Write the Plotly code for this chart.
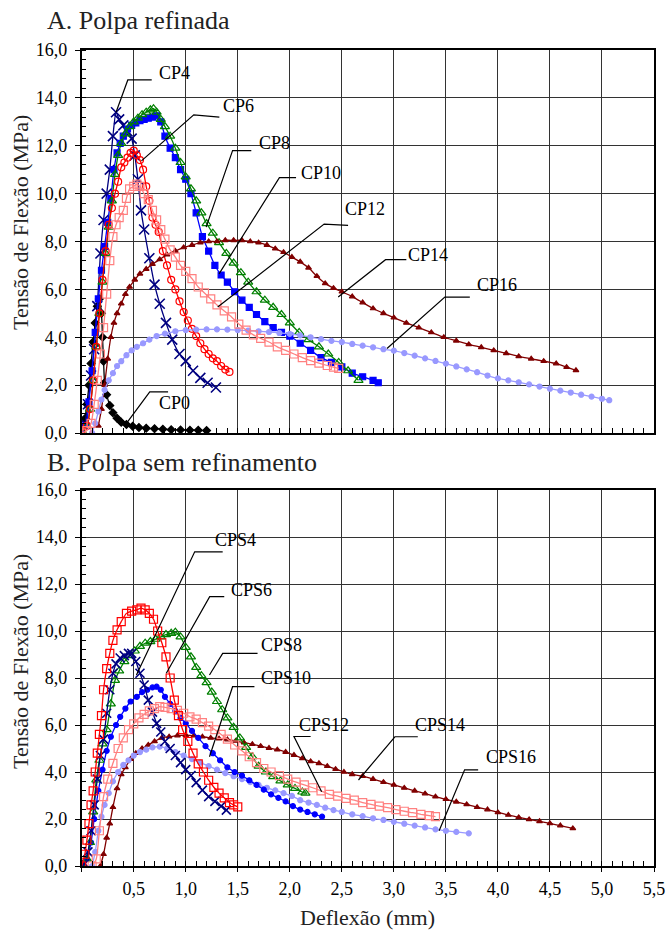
import plotly.graph_objects as go

# ---------------- DATA ----------------
# Panel A: Polpa refinada
cp0_x = [0.00, 0.03, 0.05, 0.07, 0.09, 0.11, 0.13, 0.15, 0.17, 0.19, 0.20, 0.21, 0.22, 0.24, 0.27, 0.30, 0.34, 0.38, 0.43, 0.49, 0.55, 0.62, 0.70, 0.78, 0.86, 0.95, 1.04, 1.12, 1.20]
cp0_y = [0.2, 0.6, 1.2, 2.0, 2.9, 3.8, 4.6, 5.3, 5.6, 5.0, 4.0, 3.0, 2.1, 1.6, 1.15, 0.85, 0.62, 0.45, 0.35, 0.28, 0.23, 0.2, 0.18, 0.16, 0.14, 0.13, 0.12, 0.11, 0.1]

cp4_x = [0.00, 0.03, 0.06, 0.09, 0.12, 0.15, 0.18, 0.21, 0.24, 0.27, 0.30, 0.33, 0.36, 0.40, 0.44, 0.48, 0.51, 0.54, 0.57, 0.60, 0.65, 0.70, 0.75, 0.81, 0.87, 0.94, 1.00, 1.07, 1.14, 1.21, 1.29]
cp4_y = [0.1, 0.4, 1.2, 2.4, 3.5, 5.3, 7.5, 8.9, 10.0, 11.0, 12.4, 13.4, 13.1, 12.85, 12.6, 12.3, 11.6, 10.6, 9.3, 8.5, 7.3, 6.2, 5.4, 4.6, 3.9, 3.3, 3.0, 2.6, 2.3, 2.1, 1.9]

cp6_x = [0.00, 0.04, 0.07, 0.10, 0.13, 0.16, 0.19, 0.22, 0.25, 0.28, 0.31, 0.34, 0.37, 0.40, 0.44, 0.48, 0.52, 0.56, 0.60, 0.64, 0.68, 0.72, 0.76, 0.80, 0.85, 0.90, 0.95, 1.00, 1.05, 1.10, 1.16, 1.22, 1.28, 1.34, 1.40, 1.47, 1.54, 1.61, 1.68, 1.76, 1.84, 1.92, 2.00, 2.10, 2.20, 2.30, 2.40, 2.50, 2.60, 2.70, 2.80, 2.85]
cp6_y = [0.1, 0.3, 1.3, 2.6, 4.2, 5.6, 6.8, 7.8, 8.8, 9.8, 11.0, 11.7, 12.1, 12.4, 12.7, 12.85, 12.95, 13.05, 13.1, 13.15, 13.2, 13.25, 13.0, 12.4, 11.9, 11.5, 11.0, 10.6, 10.0, 9.2, 8.2, 7.6, 7.0, 6.6, 6.3, 5.9, 5.55, 5.25, 4.95, 4.65, 4.4, 4.2, 4.05, 3.75, 3.45, 3.15, 2.95, 2.76, 2.5, 2.35, 2.2, 2.1]

cp8_x = [0.00, 0.05, 0.08, 0.11, 0.14, 0.17, 0.20, 0.23, 0.26, 0.29, 0.32, 0.35, 0.38, 0.42, 0.46, 0.50, 0.54, 0.58, 0.62, 0.66, 0.69, 0.72, 0.76, 0.80, 0.85, 0.90, 0.95, 1.00, 1.05, 1.10, 1.15, 1.20, 1.26, 1.32, 1.39, 1.46, 1.53, 1.60, 1.68, 1.76, 1.84, 1.92, 2.00, 2.09, 2.18, 2.28, 2.37, 2.47, 2.56, 2.66]
cp8_y = [0.1, 0.3, 1.0, 2.2, 3.6, 5.0, 6.3, 7.5, 8.6, 9.7, 10.8, 11.6, 12.1, 12.5, 12.8, 13.0, 13.15, 13.3, 13.4, 13.5, 13.55, 13.4, 13.1, 12.8, 12.4, 11.9, 11.3, 10.7, 10.2, 9.7, 9.2, 8.75, 8.35, 7.95, 7.5, 7.1, 6.7, 6.3, 5.9, 5.55, 5.25, 4.95, 4.6, 4.2, 3.9, 3.6, 3.3, 2.95, 2.6, 2.2]

cp10_x = [0.00, 0.05, 0.08, 0.11, 0.14, 0.17, 0.20, 0.23, 0.26, 0.29, 0.32, 0.35, 0.38, 0.41, 0.44, 0.47, 0.50, 0.53, 0.56, 0.59, 0.62, 0.65, 0.68, 0.71, 0.74, 0.78, 0.82, 0.86, 0.90, 0.94, 0.98, 1.02, 1.06, 1.10, 1.14, 1.18, 1.22, 1.26, 1.30, 1.34, 1.38, 1.42]
cp10_y = [0.1, 0.3, 1.0, 2.2, 3.6, 5.0, 6.4, 7.6, 8.7, 9.4, 10.0, 10.5, 11.1, 11.3, 11.5, 11.7, 11.8, 11.6, 11.4, 11.0, 10.3, 9.7, 9.0, 8.7, 8.4, 7.6, 7.0, 6.4, 6.0, 5.5, 5.05, 4.7, 4.35, 4.05, 3.75, 3.5, 3.3, 3.12, 3.0, 2.8, 2.65, 2.55]

cp12_x = [0.00, 0.05, 0.09, 0.12, 0.15, 0.18, 0.21, 0.24, 0.27, 0.30, 0.33, 0.36, 0.40, 0.43, 0.46, 0.50, 0.53, 0.56, 0.60, 0.64, 0.68, 0.72, 0.76, 0.80, 0.85, 0.90, 0.95, 1.00, 1.06, 1.12, 1.18, 1.24, 1.30, 1.37, 1.44, 1.51, 1.58, 1.65, 1.72, 1.80, 1.88, 1.96, 2.04, 2.12, 2.20, 2.28, 2.36, 2.42, 2.47]
cp12_y = [0.0, 0.1, 0.4, 1.2, 2.2, 3.3, 4.4, 5.8, 7.2, 8.2, 8.7, 9.0, 9.3, 9.8, 10.2, 10.3, 10.4, 10.3, 10.0, 9.75, 9.3, 8.9, 8.5, 8.1, 7.65, 7.35, 7.0, 6.75, 6.45, 6.1, 5.85, 5.6, 5.35, 5.1, 4.85, 4.55, 4.3, 4.1, 3.95, 3.8, 3.6, 3.45, 3.3, 3.15, 3.02, 2.92, 2.82, 2.75, 2.7]

cp14_x = [0.16, 0.19, 0.22, 0.25, 0.28, 0.31, 0.34, 0.38, 0.42, 0.46, 0.51, 0.56, 0.62, 0.68, 0.75, 0.82, 0.90, 0.98, 1.06, 1.14, 1.22, 1.30, 1.38, 1.46, 1.54, 1.62, 1.70, 1.78, 1.86, 1.94, 2.02, 2.10, 2.18, 2.26, 2.34, 2.42, 2.50, 2.60, 2.70, 2.80, 2.90, 3.00, 3.12, 3.24, 3.36, 3.48, 3.60, 3.72, 3.84, 3.96, 4.08, 4.20, 4.32, 4.44, 4.56, 4.66, 4.75]
cp14_y = [0.3, 1.0, 2.0, 3.1, 4.0, 4.6, 5.0, 5.4, 5.8, 6.1, 6.4, 6.65, 6.85, 7.05, 7.25, 7.45, 7.6, 7.75, 7.85, 7.95, 8.0, 8.0, 8.05, 8.05, 8.05, 8.0, 7.95, 7.85, 7.7, 7.55, 7.35, 7.15, 6.9, 6.55, 6.25, 6.05, 5.9, 5.7, 5.45, 5.2, 5.0, 4.82, 4.6, 4.4, 4.2, 4.0, 3.85, 3.7, 3.58, 3.45, 3.33, 3.2, 3.1, 3.0, 2.9, 2.75, 2.62]

cp16_x = [0.10, 0.13, 0.16, 0.19, 0.22, 0.26, 0.30, 0.34, 0.38, 0.43, 0.48, 0.53, 0.59, 0.65, 0.72, 0.80, 0.90, 1.00, 1.10, 1.20, 1.30, 1.40, 1.50, 1.60, 1.70, 1.80, 1.90, 2.00, 2.10, 2.20, 2.30, 2.40, 2.50, 2.60, 2.70, 2.80, 2.90, 3.00, 3.10, 3.20, 3.30, 3.40, 3.50, 3.60, 3.70, 3.80, 3.90, 4.00, 4.10, 4.20, 4.30, 4.40, 4.50, 4.60, 4.70, 4.80, 4.90, 5.00, 5.07]
cp16_y = [0.0, 0.4, 0.9, 1.4, 1.8, 2.2, 2.5, 2.8, 3.0, 3.25, 3.45, 3.6, 3.75, 3.9, 4.05, 4.15, 4.25, 4.3, 4.32, 4.33, 4.33, 4.32, 4.3, 4.28, 4.25, 4.22, 4.18, 4.14, 4.08, 4.0, 3.92, 3.85, 3.8, 3.72, 3.65, 3.58, 3.5, 3.44, 3.34, 3.23, 3.12, 3.01, 2.9, 2.78, 2.66, 2.54, 2.4, 2.28, 2.2, 2.12, 2.03, 1.94, 1.85, 1.77, 1.69, 1.6, 1.52, 1.43, 1.37]

# Panel B: Polpa sem refinamento
cps4_x = [0.00, 0.03, 0.06, 0.09, 0.12, 0.15, 0.18, 0.21, 0.24, 0.27, 0.30, 0.33, 0.37, 0.41, 0.45, 0.48, 0.52, 0.56, 0.60, 0.64, 0.68, 0.72, 0.76, 0.80, 0.85, 0.90, 0.95, 1.00, 1.05, 1.10, 1.16, 1.22, 1.28, 1.34, 1.39]
cps4_y = [0.0, 0.1, 0.6, 1.5, 2.6, 3.7, 4.7, 5.4, 6.5, 7.5, 8.2, 8.6, 8.85, 8.95, 9.05, 9.05, 8.7, 8.2, 7.7, 7.06, 6.55, 6.07, 5.7, 5.3, 5.0, 4.7, 4.4, 4.1, 3.85, 3.55, 3.23, 2.95, 2.75, 2.55, 2.38]

cps6_x = [0.00, 0.03, 0.05, 0.07, 0.09, 0.11, 0.13, 0.15, 0.17, 0.19, 0.21, 0.24, 0.27, 0.30, 0.34, 0.38, 0.43, 0.48, 0.53, 0.57, 0.61, 0.65, 0.69, 0.73, 0.77, 0.81, 0.85, 0.89, 0.93, 0.97, 1.02, 1.07, 1.12, 1.17, 1.22, 1.27, 1.32, 1.37, 1.42, 1.46, 1.50]
cps6_y = [0.0, 0.5, 1.1, 1.8, 2.6, 3.2, 4.0, 4.8, 5.6, 6.4, 7.5, 8.4, 9.05, 9.6, 10.05, 10.4, 10.75, 10.85, 10.9, 10.97, 10.9, 10.75, 10.5, 10.0, 9.5, 8.9, 8.0, 7.06, 6.4, 5.8, 5.3, 4.8, 4.35, 4.0, 3.65, 3.35, 3.1, 2.9, 2.7, 2.6, 2.52]

cps8_x = [0.00, 0.05, 0.08, 0.11, 0.14, 0.17, 0.20, 0.24, 0.28, 0.32, 0.36, 0.41, 0.46, 0.51, 0.56, 0.61, 0.66, 0.71, 0.76, 0.81, 0.86, 0.90, 0.95, 1.00, 1.05, 1.10, 1.15, 1.20, 1.25, 1.30, 1.35, 1.40, 1.46, 1.52, 1.58, 1.64, 1.70, 1.77, 1.84, 1.91, 1.98, 2.05, 2.12, 2.15]
cps8_y = [0.0, 0.3, 1.0, 2.3, 3.66, 4.5, 5.2, 5.8, 6.9, 7.9, 8.3, 8.7, 8.95, 9.15, 9.35, 9.48, 9.55, 9.65, 9.75, 9.85, 9.9, 9.95, 9.75, 9.3, 8.9, 8.45, 8.1, 7.8, 7.4, 7.0, 6.65, 6.3, 5.9, 5.45, 5.05, 4.65, 4.25, 4.0, 3.8, 3.62, 3.45, 3.3, 3.15, 3.1]

cps10_x = [0.00, 0.05, 0.09, 0.12, 0.16, 0.20, 0.24, 0.28, 0.33, 0.37, 0.42, 0.47, 0.53, 0.58, 0.63, 0.68, 0.72, 0.76, 0.80, 0.85, 0.90, 0.95, 1.00, 1.06, 1.12, 1.19, 1.26, 1.33, 1.40, 1.47, 1.54, 1.61, 1.68, 1.75, 1.82, 1.89, 1.96, 2.03, 2.10, 2.17, 2.24, 2.31]
cps10_y = [0.0, 0.3, 1.0, 2.0, 3.2, 4.1, 4.9, 5.5, 6.0, 6.35, 6.7, 7.0, 7.2, 7.4, 7.5, 7.6, 7.63, 7.5, 7.2, 6.9, 6.6, 6.3, 6.07, 5.75, 5.45, 5.1, 4.8, 4.5, 4.2, 4.0, 3.85, 3.65, 3.45, 3.25, 3.05, 2.9, 2.75, 2.55, 2.4, 2.3, 2.2, 2.1]

cps12_x = [0.10, 0.14, 0.17, 0.21, 0.25, 0.30, 0.35, 0.40, 0.45, 0.50, 0.55, 0.60, 0.65, 0.70, 0.75, 0.80, 0.86, 0.92, 0.98, 1.04, 1.10, 1.16, 1.22, 1.28, 1.34, 1.40, 1.47, 1.54, 1.61, 1.68, 1.75, 1.82, 1.90, 1.98, 2.06, 2.14, 2.22, 2.30, 2.38, 2.46, 2.54, 2.62, 2.70, 2.78, 2.86, 2.94, 3.02, 3.10, 3.18, 3.26, 3.34, 3.40]
cps12_y = [0.0, 0.3, 1.5, 2.95, 3.7, 4.37, 5.0, 5.45, 5.8, 6.05, 6.3, 6.45, 6.6, 6.7, 6.78, 6.75, 6.7, 6.62, 6.5, 6.35, 6.25, 6.1, 5.95, 5.8, 5.6, 5.4, 5.15, 4.9, 4.65, 4.4, 4.15, 4.0, 3.85, 3.7, 3.57, 3.45, 3.33, 3.2, 3.05, 2.97, 2.88, 2.8, 2.7, 2.62, 2.55, 2.48, 2.4, 2.33, 2.27, 2.2, 2.14, 2.1]

cps14_x = [0.18, 0.21, 0.24, 0.27, 0.30, 0.34, 0.38, 0.42, 0.47, 0.52, 0.58, 0.64, 0.70, 0.77, 0.84, 0.92, 1.00, 1.08, 1.16, 1.24, 1.32, 1.40, 1.48, 1.56, 1.64, 1.72, 1.80, 1.88, 1.96, 2.04, 2.12, 2.20, 2.28, 2.36, 2.44, 2.52, 2.60, 2.70, 2.80, 2.90, 3.00, 3.10, 3.20, 3.30, 3.40, 3.50, 3.60, 3.70, 3.80, 3.90, 4.00, 4.10, 4.20, 4.30, 4.40, 4.50, 4.60, 4.72]
cps14_y = [0.0, 0.5, 1.2, 1.8, 2.5, 3.3, 3.9, 4.2, 4.55, 4.8, 5.0, 5.15, 5.3, 5.45, 5.5, 5.55, 5.57, 5.55, 5.5, 5.45, 5.42, 5.38, 5.32, 5.25, 5.18, 5.1, 5.02, 4.95, 4.85, 4.72, 4.58, 4.45, 4.37, 4.25, 4.12, 4.0, 3.9, 3.82, 3.7, 3.57, 3.45, 3.32, 3.2, 3.08, 2.95, 2.84, 2.73, 2.62, 2.5, 2.4, 2.28, 2.17, 2.07, 1.98, 1.9, 1.81, 1.72, 1.6]

cps16_x = [0.10, 0.13, 0.16, 0.19, 0.22, 0.26, 0.30, 0.35, 0.40, 0.45, 0.50, 0.56, 0.62, 0.68, 0.75, 0.82, 0.90, 0.98, 1.06, 1.14, 1.22, 1.30, 1.38, 1.46, 1.54, 1.62, 1.70, 1.78, 1.86, 1.94, 2.02, 2.10, 2.18, 2.26, 2.34, 2.42, 2.50, 2.60, 2.70, 2.80, 2.90, 3.00, 3.10, 3.20, 3.30, 3.40, 3.50, 3.60, 3.72]
cps16_y = [0.0, 0.6, 1.5, 2.1, 2.6, 3.1, 3.6, 4.0, 4.3, 4.5, 4.7, 4.85, 4.95, 5.05, 5.08, 5.0, 4.85, 4.7, 4.55, 4.4, 4.25, 4.1, 3.95, 3.82, 3.7, 3.57, 3.45, 3.33, 3.22, 3.1, 2.98, 2.8, 2.7, 2.6, 2.48, 2.38, 2.3, 2.2, 2.12, 2.03, 1.96, 1.88, 1.8, 1.72, 1.64, 1.56, 1.5, 1.45, 1.39]

# Tick labels
x_tick_values = [0.0, 0.5, 1.0, 1.5, 2.0, 2.5, 3.0, 3.5, 4.0, 4.5, 5.0, 5.5]
x_tick_labels = ["", "0,5", "1,0", "1,5", "2,0", "2,5", "3,0", "3,5", "4,0", "4,5", "5,0", "5,5"]
y_tick_values = [0, 2, 4, 6, 8, 10, 12, 14, 16]
y_tick_labels = ["0,0", "2,0", "4,0", "6,0", "8,0", "10,0", "12,0", "14,0", "16,0"]

# ---------------- STYLES ----------------
FONT = "'Liberation Serif', 'Times New Roman', Times, serif"
NAVY, BLUE, GREEN, RED = "#000080", "#0000FF", "#008000", "#FF0000"
PINK, MAROON, LILAC, BLACK = "#FF8080", "#800000", "#9999FF", "#000000"

def series(x, y, color, symbol, size, xa, ya, lw=1.3, mlw=1.2):
    return go.Scatter(
        x=x, y=y, mode="lines+markers", xaxis=xa, yaxis=ya, showlegend=False,
        line=dict(color=color, width=lw, shape="spline", smoothing=0.6),
        marker=dict(symbol=symbol, size=size, color=color,
                    line=dict(color=color, width=mlw)),
        hoverinfo="skip")

fig = go.Figure()
# Panel A
fig.add_trace(series(cp0_x, cp0_y, BLACK, "diamond", 6, "x", "y"))
fig.add_trace(series(cp4_x, cp4_y, NAVY, "x-thin-open", 10, "x", "y", mlw=1.6))
fig.add_trace(series(cp6_x, cp6_y, BLUE, "square", 6, "x", "y"))
fig.add_trace(series(cp8_x, cp8_y, GREEN, "triangle-up-open", 8, "x", "y"))
fig.add_trace(series(cp10_x, cp10_y, RED, "circle-open", 7, "x", "y"))
fig.add_trace(series(cp14_x, cp14_y, MAROON, "triangle-up", 5, "x", "y"))
fig.add_trace(series(cp16_x, cp16_y, LILAC, "circle", 5, "x", "y"))
fig.add_trace(series(cp12_x, cp12_y, PINK, "square-open", 8, "x", "y"))
# Panel B
fig.add_trace(series(cps14_x, cps14_y, MAROON, "triangle-up", 5, "x2", "y2"))
fig.add_trace(series(cps16_x, cps16_y, LILAC, "circle", 5, "x2", "y2"))
fig.add_trace(series(cps10_x, cps10_y, BLUE, "circle", 5, "x2", "y2"))
fig.add_trace(series(cps8_x, cps8_y, GREEN, "triangle-up-open", 8, "x2", "y2"))
fig.add_trace(series(cps4_x, cps4_y, NAVY, "x-thin-open", 9, "x2", "y2", mlw=1.6))
fig.add_trace(series(cps12_x, cps12_y, PINK, "square-open", 8, "x2", "y2"))
fig.add_trace(series(cps6_x, cps6_y, RED, "square-open", 8, "x2", "y2"))

W, H = 668, 931
xdom = [81.7 / W, 654 / W]
ydomA = [1 - 433 / H, 1 - 50 / H]
ydomB = [1 - 866 / H, 1 - 490 / H]

def xaxis(domain, anchor, labels):
    return dict(domain=domain, anchor=anchor, range=[0, 5.5], automargin=False,
                tickmode="array", tickvals=x_tick_values,
                ticktext=x_tick_labels if labels else [""] * len(x_tick_values),
                showticklabels=labels,
                tickfont=dict(family=FONT, size=18, color="black"),
                ticks="outside", ticklen=4, tickcolor="black",
                showgrid=True, gridcolor="#333333", gridwidth=1,
                showline=True, linecolor="black", linewidth=1.5, mirror=True,
                zeroline=False, ticklabelstandoff=2,
                minor=dict(dtick=0.1, tick0=0, ticks="inside", ticklen=5,
                           tickcolor="black", tickwidth=1, showgrid=False))

def yaxis(domain, anchor):
    return dict(domain=domain, anchor=anchor, range=[0, 16], automargin=False,
                tickmode="array", tickvals=y_tick_values, ticktext=y_tick_labels,
                tickfont=dict(family=FONT, size=18, color="black"),
                ticks="outside", ticklen=5, tickcolor="black",
                showgrid=True, gridcolor="#333333", gridwidth=1,
                showline=True, linecolor="black", linewidth=1.5, mirror=True,
                zeroline=False, ticklabelstandoff=4,
                minor=dict(dtick=0.4, tick0=0, ticks="inside", ticklen=5,
                           tickcolor="black", tickwidth=1, showgrid=False))

# Leader lines: (tip x, tip y, corner x, corner y, end x, end y, label x, label y, text)
leaders_A = [
    (0.33, 13.4, 0.443, 14.75, 0.673, 14.75, 0.72, 15.04, "CP4"),
    (0.574, 11.37, 1.077, 13.29, 1.323, 13.2, 1.34, 13.67, "CP6"),
    (1.196, 8.6, 1.45, 11.8, 1.63, 11.8, 1.68, 12.12, "CP8"),
    (1.32, 6.65, 1.9, 10.67, 2.06, 10.67, 2.09, 10.875, "CP10"),
    (1.307, 5.26, 2.33, 8.73, 2.56, 8.67, 2.51, 9.375, "CP12"),
    (2.465, 5.68, 2.92, 7.24, 3.12, 7.24, 3.12, 7.42, "CP14"),
    (2.934, 3.53, 3.49, 5.68, 3.73, 5.68, 3.78, 6.17, "CP16"),
    (0.43, 0.4, 0.654, 1.72, 0.83, 1.72, 0.72, 1.25, "CP0"),
]
leaders_B = [
    (0.526, 8.13, 1.086, 13.37, 1.355, 13.37, 1.266, 13.87, "CPS4"),
    (0.813, 8.2, 1.23, 11.46, 1.37, 11.46, 1.42, 11.74, "CPS6"),
    (1.228, 8.13, 1.355, 9.05, 1.69, 9.05, 1.706, 9.4, "CPS8"),
    (1.228, 4.65, 1.45, 7.63, 1.66, 7.63, 1.706, 8.0, "CPS10"),
    (2.306, 3.16, 2.04, 5.51, 2.2, 5.51, 2.07, 6.0, "CPS12"),
    (2.66, 3.66, 3.01, 5.5, 3.23, 5.5, 3.18, 6.0, "CPS14"),
    (3.435, 1.5, 3.68, 4.09, 3.81, 4.09, 3.87, 4.64, "CPS16"),
]

shapes, annotations = [], []
for leaders, xr, yr in ((leaders_A, "x", "y"), (leaders_B, "x2", "y2")):
    for tx, ty, cx, cy, ex, ey, lx, ly, txt in leaders:
        shapes.append(dict(type="path", xref=xr, yref=yr,
                           path=f"M {tx},{ty} L {cx},{cy} L {ex},{ey}",
                           line=dict(color="black", width=1.2)))
        annotations.append(dict(x=lx, y=ly, xref=xr, yref=yr, text=txt,
                                showarrow=False, xanchor="left", yanchor="middle",
                                font=dict(family=FONT, size=18, color="black")))

# Titles
annotations += [
    dict(text="A. Polpa refinada", x=45 / W, y=1 - 21 / H, xref="paper", yref="paper",
         xanchor="left", yanchor="middle", showarrow=False,
         font=dict(family=FONT, size=26, color="#222")),
    dict(text="B. Polpa sem refinamento", x=45 / W, y=1 - 462 / H, xref="paper", yref="paper",
         xanchor="left", yanchor="middle", showarrow=False,
         font=dict(family=FONT, size=26, color="#222")),
    dict(text="Tensão de Flexão (MPa)", x=20 / W, y=1 - 223 / H, xref="paper", yref="paper",
         xanchor="center", yanchor="middle", textangle=-90, showarrow=False,
         font=dict(family=FONT, size=22, color="#222")),
    dict(text="Tensão de Flexão (MPa)", x=20 / W, y=1 - 662 / H, xref="paper", yref="paper",
         xanchor="center", yanchor="middle", textangle=-90, showarrow=False,
         font=dict(family=FONT, size=22, color="#222")),
    dict(text="Deflexão (mm)", x=(81.7 + 654) / 2 / W, y=1 - 917 / H, xref="paper", yref="paper",
         xanchor="center", yanchor="middle", showarrow=False,
         font=dict(family=FONT, size=22, color="#222")),
]

fig.update_layout(
    width=W, height=H, margin=dict(l=0, r=0, t=0, b=0, autoexpand=False),
    paper_bgcolor="white", plot_bgcolor="white", showlegend=False,
    font=dict(family=FONT),
    xaxis=xaxis(xdom, "y", False), yaxis=yaxis(ydomA, "x"),
    xaxis2=xaxis(xdom, "y2", True), yaxis2=yaxis(ydomB, "x2"),
    shapes=shapes, annotations=annotations,
)

fig.write_html("out.html", config={"displayModeBar": False},
               post_script="document.body.style.margin='0';document.body.style.padding='0';")
